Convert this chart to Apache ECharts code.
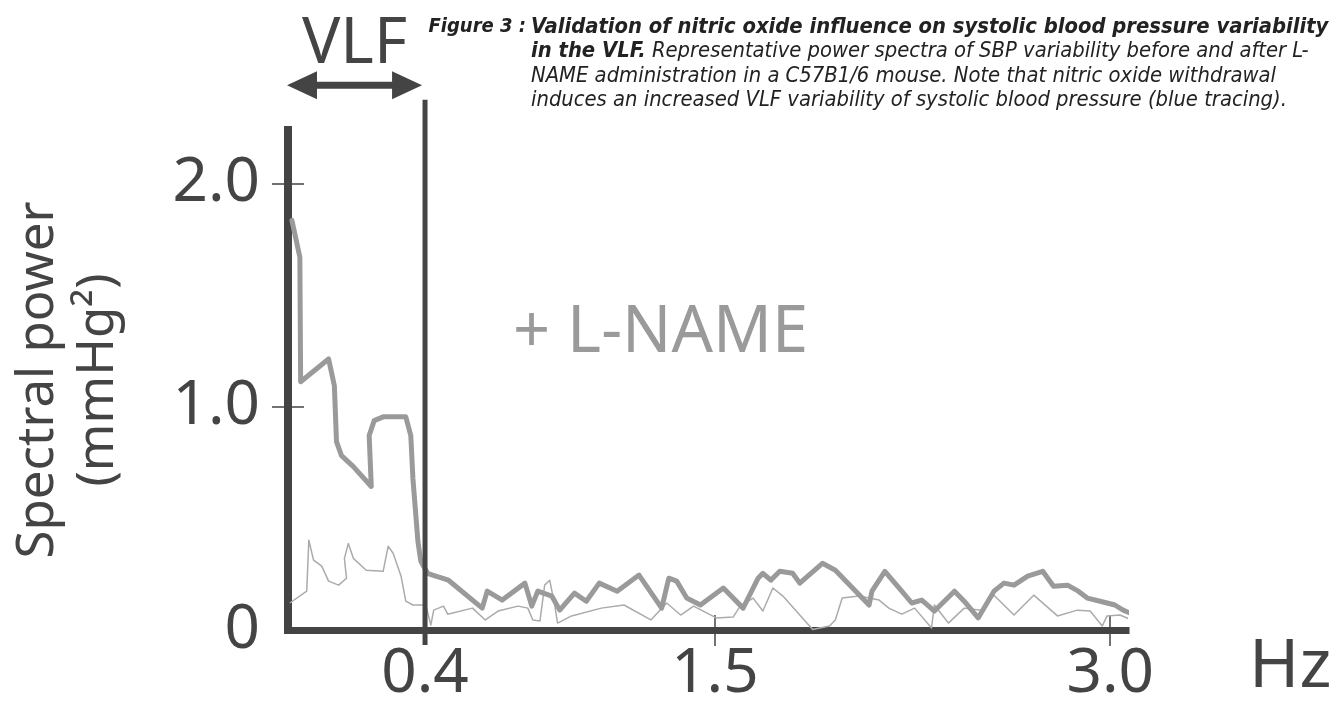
<!DOCTYPE html>
<html>
<head>
<meta charset="utf-8">
<style>
  html, body { margin: 0; padding: 0; background: #ffffff; }
  #chart { width: 1338px; height: 705px; }
</style>
<script src="https://cdn.jsdelivr.net/npm/echarts@6/dist/echarts.min.js"></script>
</head>
<body>
<div id="chart"></div>
<script>
// ---- Data ----
// Thick grey tracing (+ L-NAME): frequency (Hz) and spectral power (mmHg^2)
const hzLName = [-0.105,-0.075,-0.072,0.034,0.056,0.064,0.083,0.128,0.196,0.188,0.207,0.241,0.327,0.346,0.354,0.373,0.384,0.410,
  0.429,0.489,0.617,0.636,0.693,0.779,0.805,0.828,0.881,0.911,0.967,1.012,1.061,1.129,1.212,1.298,1.325,1.355,1.393,1.445,
  1.532,1.607,1.664,1.682,1.712,1.746,1.795,1.822,1.908,1.957,2.085,2.096,2.145,2.209,2.247,2.285,2.333,2.409,2.446,2.499,
  2.559,2.597,2.635,2.687,2.744,2.785,2.838,2.879,2.913,2.962,3.018,3.049,3.075];
const powLName = [1.835,1.670,1.112,1.214,1.094,0.844,0.781,0.732,0.643,0.871,0.938,0.955,0.955,0.871,0.679,0.397,0.308,0.254,
  0.246,0.223,0.098,0.174,0.134,0.210,0.107,0.174,0.152,0.089,0.165,0.129,0.210,0.174,0.246,0.098,0.232,0.219,0.143,0.112,
  0.188,0.098,0.232,0.254,0.223,0.263,0.254,0.210,0.299,0.268,0.112,0.174,0.263,0.174,0.121,0.134,0.085,0.174,0.129,0.054,
  0.174,0.210,0.201,0.241,0.263,0.196,0.201,0.174,0.143,0.129,0.112,0.089,0.076];

// Thin grey tracing (baseline, before L-NAME)
const hzBase = [-0.113,-0.049,-0.041,-0.023,0.008,0.034,0.072,0.102,0.094,0.109,0.128,0.177,0.241,0.260,0.279,0.309,0.327,0.354,0.403,
  0.422,0.433,0.470,0.486,0.580,0.629,0.677,0.753,0.790,0.809,0.836,0.854,0.873,0.892,0.903,0.956,1.069,1.155,1.257,1.317,
  1.370,1.419,1.505,1.569,1.596,1.645,1.682,1.720,1.758,1.871,1.935,1.957,1.983,2.047,2.123,2.160,2.209,2.258,2.322,2.333,
  2.386,2.446,2.510,2.559,2.635,2.710,2.800,2.875,2.924,2.970,2.988,3.037,3.082,3.086];
const powBase = [0.121,0.174,0.402,0.313,0.286,0.219,0.201,0.232,0.321,0.388,0.321,0.268,0.263,0.375,0.344,0.241,0.129,0.112,0.112,
  0.022,0.089,0.107,0.071,0.098,0.045,0.085,0.107,0.098,0.045,0.040,0.201,0.223,0.112,0.031,0.063,0.098,0.112,0.045,0.121,
  0.067,0.107,0.054,0.058,0.107,0.143,0.085,0.188,0.152,0.002,0.018,0.045,0.143,0.152,0.134,0.098,0.071,0.098,0.009,0.112,
  0.031,0.098,0.089,0.156,0.067,0.156,0.063,0.089,0.085,0.018,0.063,0.067,0.045,0.009];

// Axis ticks / labels
const xTickValues = [0.4, 1.5, 3.0];
const xTickLabels = ['0.4', '1.5', '3.0'];
const xMinorTicks = [1.5, 3.0];
const yTickValues = [0, 1, 2];
const yTickLabels = ['0', '1.0', '2.0'];
const yMarkTicks = [1, 2];
const vlfLimitHz = 0.4;

// ---- Chart ----
const X_MIN = -0.12, X_MAX = 3.06, Y_MIN = 0, Y_MAX = 2.24;
const FONT = "'Noto Sans', 'DejaVu Sans', sans-serif";
const CAPFONT = "'DejaVu Sans Condensed', 'DejaVu Sans', sans-serif";
const DARK = '#444444';

const zip = (a, b) => a.map((v, i) => [v, b[i]]);

const chart = echarts.init(document.getElementById('chart'), null, { renderer: 'canvas' });

const xBase = {
  type: 'value', min: X_MIN, max: X_MAX, gridIndex: 0, position: 'bottom',
  splitLine: { show: false }
};
const yBase = {
  type: 'value', min: Y_MIN, max: Y_MAX, gridIndex: 0, position: 'left',
  splitLine: { show: false }
};

const option = {
  backgroundColor: '#ffffff',
  animation: false,
  title: [
    {
      text: 'Figure 3 :',
      right: 812, top: 15, padding: 0,
      textStyle: { fontFamily: CAPFONT, fontSize: 20, fontStyle: 'italic', fontWeight: 'bold', color: '#222', lineHeight: 24.5 }
    },
    {
      text: '{b|Validation of nitric oxide influence on systolic blood pressure variability}\n' +
            '{b|in the VLF.}{n| Representative power spectra of SBP variability before and after L-}\n' +
            '{n|NAME administration in a C57B1/6 mouse. Note that nitric oxide withdrawal}\n' +
            '{n|induces an increased VLF variability of systolic blood pressure (blue tracing).}',
      left: 531, top: 15, padding: 0,
      textStyle: {
        rich: {
          b: { fontFamily: CAPFONT, fontSize: 21.8, fontStyle: 'italic', fontWeight: 'bold', color: '#222', lineHeight: 24.5 },
          n: { fontFamily: CAPFONT, fontSize: 21.8, fontStyle: 'italic', fontWeight: 'normal', color: '#222', lineHeight: 24.5 }
        }
      }
    }
  ],
  grid: { left: 281, top: 130, width: 845, height: 502, containLabel: false },
  xAxis: [
    Object.assign({}, xBase, {
      axisLine: { show: true, onZero: false, lineStyle: { color: DARK, width: 7, cap: 'square' } },
      axisTick: { show: true, customValues: xMinorTicks, length: 16, lineStyle: { color: DARK, width: 1.5 } },
      axisLabel: {
        show: true, customValues: xTickValues, margin: 13,
        formatter: v => xTickLabels[xTickValues.findIndex(t => Math.abs(t - v) < 1e-6)] || '',
        fontFamily: FONT, fontSize: 62, color: DARK
      },
      name: 'Hz', nameLocation: 'end', nameGap: 123,
      nameTextStyle: { fontFamily: FONT, fontSize: 68, color: DARK, verticalAlign: 'top', padding: [4, 0, 0, 0] }
    }),
    Object.assign({}, xBase, {
      axisLine: { show: false, onZero: false },
      axisTick: { show: true, inside: true, customValues: xMinorTicks, length: 15, lineStyle: { color: DARK, width: 1.5 } },
      axisLabel: { show: false }
    })
  ],
  yAxis: [
    Object.assign({}, yBase, {
      axisLine: { show: true, onZero: false, lineStyle: { color: DARK, width: 8, cap: 'square' } },
      axisTick: { show: true, customValues: yMarkTicks, length: 16, lineStyle: { color: DARK, width: 1.5 } },
      axisLabel: {
        show: true, customValues: yTickValues, margin: 28,
        formatter: v => yTickLabels[yTickValues.findIndex(t => Math.abs(t - v) < 1e-6)] || '',
        fontFamily: FONT, fontSize: 62, color: DARK
      },
      name: 'Spectral power\n(mmHg\u00B2)', nameLocation: 'middle', nameRotate: 90, nameGap: 160,
      nameTextStyle: { fontFamily: FONT, fontSize: 51, lineHeight: 60, color: DARK }
    }),
    Object.assign({}, yBase, {
      axisLine: { show: false, onZero: false },
      axisTick: { show: true, inside: true, customValues: yMarkTicks, length: 16, lineStyle: { color: DARK, width: 1.5 } },
      axisLabel: { show: false }
    })
  ],
  graphic: [
    {
      type: 'text', left: 513, top: 301, z: 10,
      style: { text: '+ L-NAME', fontFamily: FONT, fontSize: 65, fill: '#9a9a9a' }
    }
  ],
  series: [
    {
      name: 'Baseline', type: 'line', xAxisIndex: 0, yAxisIndex: 0,
      data: zip(hzBase, powBase), showSymbol: false, clip: false, z: 2,
      lineStyle: { color: '#ababab', width: 1.5, join: 'round' }
    },
    {
      name: '+ L-NAME', type: 'line', xAxisIndex: 0, yAxisIndex: 0,
      data: zip(hzLName, powLName), showSymbol: false, clip: false, z: 3,
      lineStyle: { color: '#9a9a9a', width: 5, join: 'round', cap: 'round' }
    },
    {
      name: 'VLF', type: 'custom', xAxisIndex: 0, yAxisIndex: 0, clip: false, z: 5,
      data: [[vlfLimitHz, 0]],
      renderItem: function (params, api) {
        const base = api.coord([api.value(0), 0]);
        const left = api.coord([X_MIN, 0]);
        const x = base[0];
        const top = api.coord([api.value(0), 2.375])[1];
        const bottom = base[1] + 15;
        const ay = api.coord([0, 2.44])[1];
        const ty = api.coord([0, 2.62])[1];
        const lx = left[0] - 1;
        const rx = x - 3;
        return {
          type: 'group',
          children: [
            { type: 'line', shape: { x1: x, y1: top, x2: x, y2: bottom }, style: { stroke: DARK, lineWidth: 5 } },
            { type: 'line', shape: { x1: lx + 20, y1: ay, x2: rx - 20, y2: ay }, style: { stroke: DARK, lineWidth: 7 } },
            { type: 'polygon', shape: { points: [[lx, ay], [lx + 30, ay - 14], [lx + 30, ay + 14]] }, style: { fill: DARK } },
            { type: 'polygon', shape: { points: [[rx, ay], [rx - 30, ay - 14], [rx - 30, ay + 14]] }, style: { fill: DARK } },
            { type: 'text', style: { text: 'VLF', x: (lx + rx) / 2, y: ty, align: 'center', verticalAlign: 'middle',
                fontFamily: FONT, fontSize: 64, fill: DARK } }
          ]
        };
      }
    }
  ]
};

chart.setOption(option);
</script>
</body>
</html>
